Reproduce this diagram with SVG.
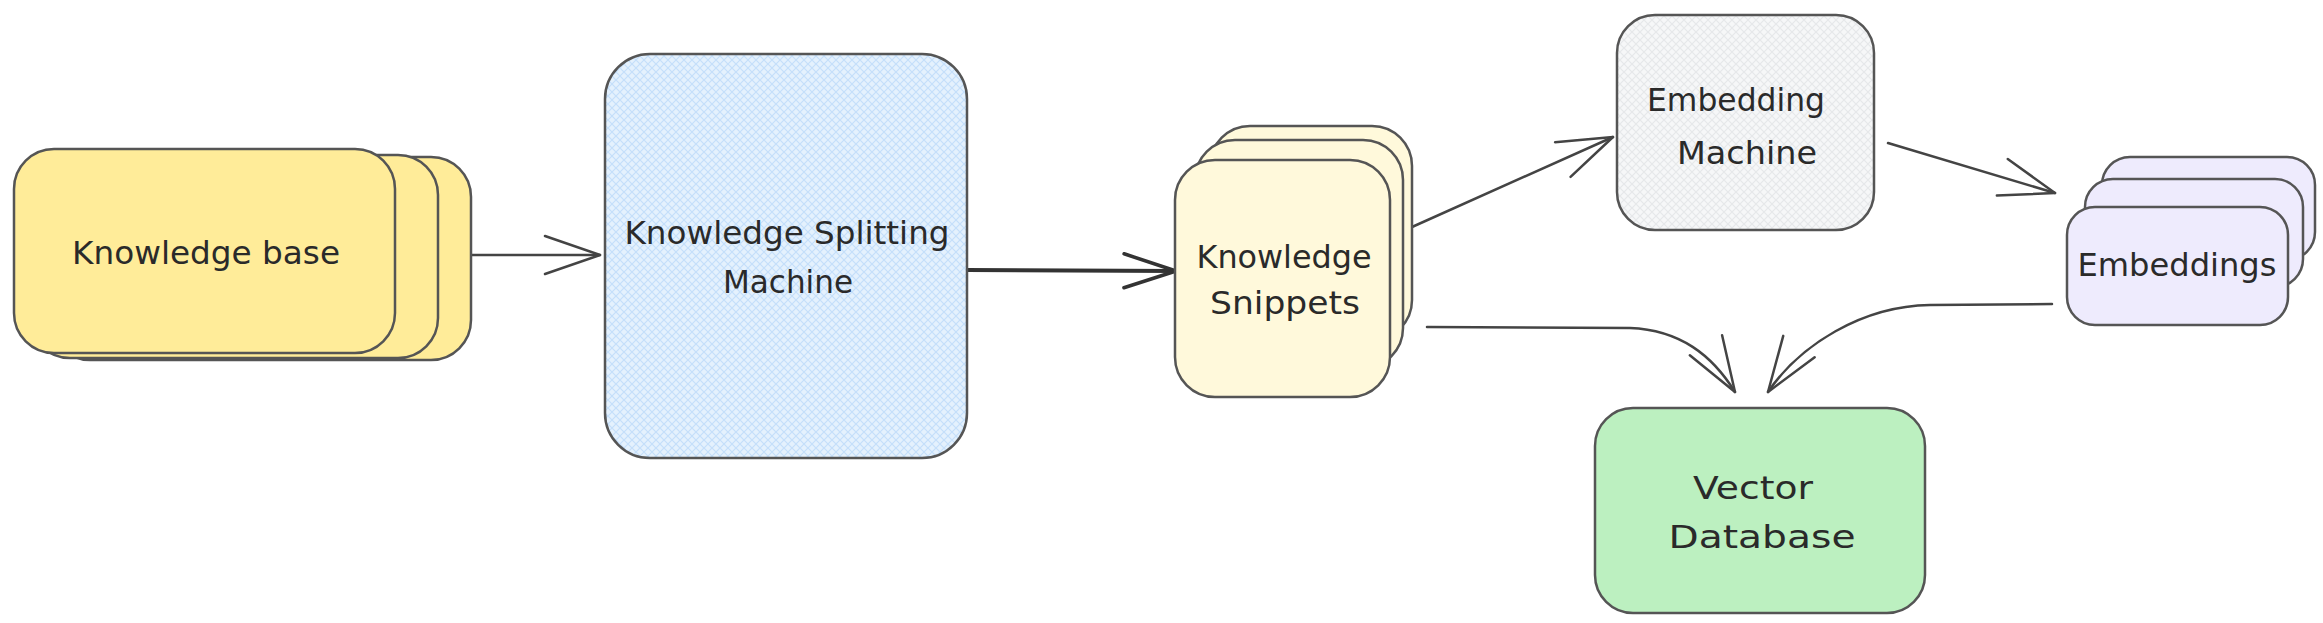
<svg xmlns="http://www.w3.org/2000/svg" width="2323" height="623" viewBox="0 0 2323 623">
  <style>
    .box { stroke: #555; stroke-width: 2.5; }
    .lbl { font-family: "DejaVu Sans", "Noto Sans", sans-serif; fill: #2a2a2a; text-anchor: middle; font-size: 32px; }
    .conn { fill: none; stroke: #444; stroke-width: 2.5; stroke-linecap: round; }
  </style>
  <defs>
    <pattern id="hatchBlue" width="8" height="8" patternUnits="userSpaceOnUse">
      <rect width="8" height="8" fill="#e4f1fd"/>
      <path d="M0 8 L8 0 M0 0 L8 8" stroke="#c4dffa" stroke-width="1.2"/>
    </pattern>
    <pattern id="hatchGray" width="8" height="8" patternUnits="userSpaceOnUse">
      <rect width="8" height="8" fill="#f6f7f8"/>
      <path d="M0 8 L8 0 M0 0 L8 8" stroke="#e6e8ea" stroke-width="1.2"/>
    </pattern>
    <marker id="head" markerUnits="userSpaceOnUse" markerWidth="70" markerHeight="70" viewBox="-65 -35 70 70" refX="0" refY="0" orient="auto" overflow="visible">
      <path d="M-55 -19 L0 0 L-55 19" fill="none" stroke="#444" stroke-width="2.5" stroke-linecap="round" stroke-linejoin="round"/>
    </marker>
    <marker id="headBold" markerUnits="userSpaceOnUse" markerWidth="70" markerHeight="70" viewBox="-65 -35 70 70" refX="0" refY="0" orient="auto" overflow="visible">
      <path d="M-52 -17 L0 0 L-52 17" fill="none" stroke="#333" stroke-width="3.5" stroke-linecap="round" stroke-linejoin="round"/>
    </marker>
  </defs>

  <rect width="2323" height="623" fill="#ffffff"/>

  <g id="connectors">
    <path class="conn" d="M459 255 L600 255" marker-end="url(#head)"/>
    <path class="conn" d="M967 270 L1176 271" style="stroke:#333;stroke-width:4" marker-end="url(#headBold)"/>
    <path class="conn" d="M1412 227 L1613 137" marker-end="url(#head)"/>
    <path class="conn" d="M1888 143 L2055 193" marker-end="url(#head)"/>
    <path class="conn" d="M1427 327 L1630 328 C1680 330 1712 355 1735 392" marker-end="url(#head)"/>
    <path class="conn" d="M2052 304 L1930 305 C1862 306 1800 345 1768 392" marker-end="url(#head)"/>
  </g>

  <g id="knowledge-base">
    <rect class="box" x="50" y="157" width="421" height="203" rx="40" fill="#ffec99"/>
    <rect class="box" x="30" y="155" width="408" height="203" rx="40" fill="#ffec99"/>
    <rect class="box" x="14" y="149" width="381" height="204" rx="40" fill="#ffec99"/>
    <text class="lbl" x="206" y="264" textLength="268" lengthAdjust="spacingAndGlyphs">Knowledge base</text>
  </g>

  <g id="knowledge-splitting-machine">
    <rect class="box" x="605" y="54" width="362" height="404" rx="45" fill="url(#hatchBlue)"/>
    <text class="lbl" x="787" y="244" textLength="325" lengthAdjust="spacingAndGlyphs">Knowledge Splitting</text>
    <text class="lbl" x="788" y="293" textLength="130" lengthAdjust="spacingAndGlyphs">Machine</text>
  </g>

  <g id="knowledge-snippets">
    <rect class="box" x="1210" y="126" width="202" height="214" rx="40" fill="#fff9db"/>
    <rect class="box" x="1195" y="140" width="208" height="228" rx="40" fill="#fff9db"/>
    <rect class="box" x="1175" y="160" width="215" height="237" rx="40" fill="#fff9db"/>
    <text class="lbl" x="1284" y="268" textLength="175" lengthAdjust="spacingAndGlyphs">Knowledge</text>
    <text class="lbl" x="1285" y="314" textLength="150" lengthAdjust="spacingAndGlyphs">Snippets</text>
  </g>

  <g id="embedding-machine">
    <rect class="box" x="1617" y="15" width="257" height="215" rx="38" fill="url(#hatchGray)"/>
    <text class="lbl" x="1736" y="111" textLength="178" lengthAdjust="spacingAndGlyphs">Embedding</text>
    <text class="lbl" x="1747" y="164" textLength="140" lengthAdjust="spacingAndGlyphs">Machine</text>
  </g>

  <g id="embeddings">
    <rect class="box" x="2102" y="157" width="213" height="103" rx="28" fill="#eeebfd"/>
    <rect class="box" x="2085" y="179" width="218" height="108" rx="28" fill="#eeebfd"/>
    <rect class="box" x="2067" y="207" width="221" height="118" rx="28" fill="#eeebfd"/>
    <text class="lbl" x="2177" y="276" textLength="199" lengthAdjust="spacingAndGlyphs">Embeddings</text>
  </g>

  <g id="vector-database">
    <rect class="box" x="1595" y="408" width="330" height="205" rx="38" fill="#bcf0c0"/>
    <text class="lbl" x="1753" y="499" textLength="120" lengthAdjust="spacingAndGlyphs">Vector</text>
    <text class="lbl" x="1762" y="548" textLength="187" lengthAdjust="spacingAndGlyphs">Database</text>
  </g>
</svg>
